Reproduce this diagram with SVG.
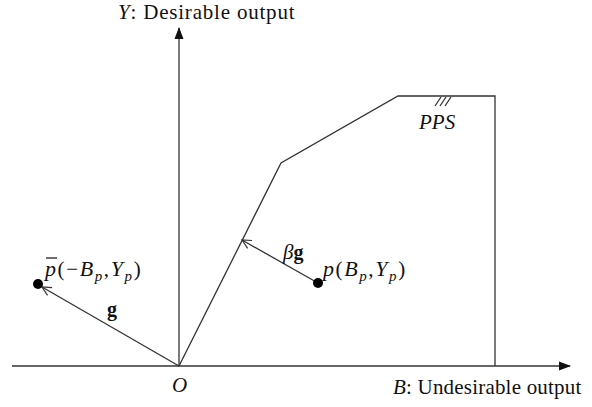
<svg xmlns="http://www.w3.org/2000/svg" width="592" height="407" viewBox="0 0 592 407">
<style>
.ln{stroke:#333;stroke-width:1.3;fill:none}
.t{font-family:"Liberation Serif",serif;font-style:normal;font-size:21px;fill:#111}
.m{font-family:"Liberation Serif",serif;font-style:italic;font-size:21px;fill:#111}
.mp{font-family:"Liberation Serif",serif;font-style:italic;font-size:22px;fill:#111;letter-spacing:1.6px}
.s{font-size:15px}
.b{font-family:"Liberation Serif",serif;font-weight:bold;font-style:normal;font-size:20px;fill:#111}
</style>
<defs>
<marker id="solid" markerWidth="12" markerHeight="12" refX="11" refY="6" orient="auto" markerUnits="userSpaceOnUse"><path d="M0,1.5 L12,6 L0,10.5 Z" fill="#111"/></marker>
<marker id="open" markerWidth="12" markerHeight="12" refX="10" refY="6" orient="auto" markerUnits="userSpaceOnUse"><path d="M1,1.5 L10,6 L1,10.5" fill="none" stroke="#333" stroke-width="1.2"/></marker>
</defs>
<g id="connectors">
<line class="ln" x1="12" y1="366" x2="570" y2="366" marker-end="url(#solid)"/>
<line class="ln" x1="179" y1="366" x2="179" y2="28" marker-end="url(#solid)"/>
<polyline class="ln" points="179,366 281,163 398,96 495,96 495,366"/>
<line class="ln" x1="179" y1="366" x2="42" y2="287" marker-end="url(#open)"/>
<line class="ln" x1="318" y1="283" x2="242" y2="240" marker-end="url(#open)"/>
<path class="ln" d="M435,106 L441,97 M440,106 L446,97 M445,106 L451,97" stroke-width="1"/>
</g>
<g id="p">
<circle cx="318" cy="283" r="5" fill="#000"/>
<text x="323" y="276" class="mp">p<tspan class="t" font-size="22">(</tspan>B<tspan class="s" dy="5">p</tspan><tspan class="t" font-size="22" dy="-5">,</tspan>Y<tspan class="s" dy="5">p</tspan><tspan class="t" font-size="22" dy="-5">)</tspan></text>
</g>
<g id="pbar">
<circle cx="38" cy="284" r="5" fill="#000"/>
<text x="45" y="276" class="mp">p<tspan class="t" font-size="22">(−</tspan>B<tspan class="s" dy="5">p</tspan><tspan class="t" font-size="22" dy="-5">,</tspan>Y<tspan class="s" dy="5">p</tspan><tspan class="t" font-size="22" dy="-5">)</tspan></text>
<line x1="46" y1="258" x2="57" y2="258" stroke="#111" stroke-width="1.2"/>
</g>
<g id="labels">
<text x="107" y="316" class="b">g</text>
<text x="283" y="259" class="m" font-size="20">β<tspan class="b">g</tspan></text>
<text x="419" y="129" class="m" font-size="22">PPS</text>
<text x="172" y="392" class="m" font-size="22">O</text>
<text x="118" y="19" class="t" letter-spacing="0.8"><tspan class="m">Y</tspan>: Desirable output</text>
<text x="393" y="394" class="t" letter-spacing="0.2"><tspan class="m">B</tspan>: Undesirable output</text>
</g>
</svg>
